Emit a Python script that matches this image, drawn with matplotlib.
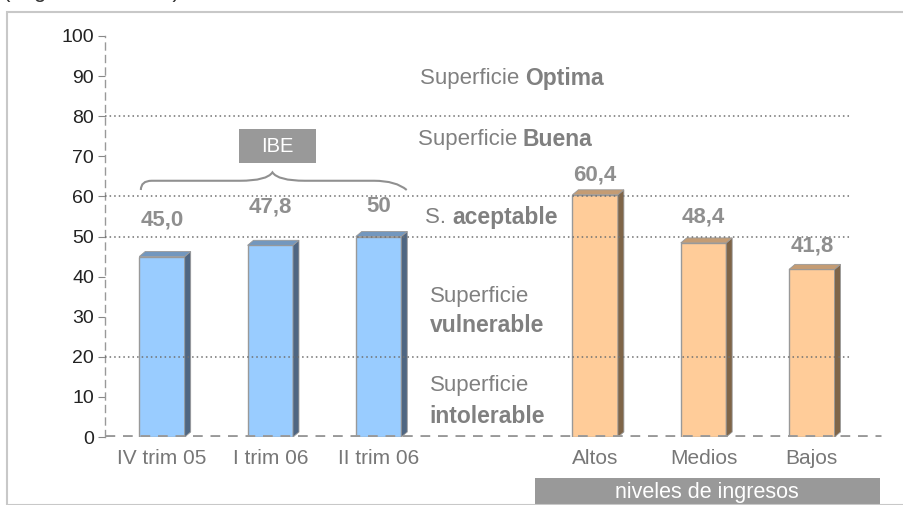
import numpy as np
import matplotlib
matplotlib.use("Agg")
import matplotlib.pyplot as plt
from matplotlib.patches import Polygon, Rectangle, PathPatch
from matplotlib.path import Path

plt.rcParams['font.family'] = ['Liberation Sans', 'DejaVu Sans']

# datos
categorias = ["IV trim 05", "I trim 06", "II trim 06", "Altos", "Medios", "Bajos"]
posiciones = [0, 1, 2, 4, 5, 6]
valores = [45.0, 47.8, 50.0, 60.4, 48.4, 41.8]
etiquetas = ["45,0", "47,8", "50", "60,4", "48,4", "41,8"]
grupo = ["IBE", "IBE", "IBE", "ingresos", "ingresos", "ingresos"]
umbrales = [20, 50, 60, 80]
lbl_off = [37, 38, 30, 20, 26, 23]  # separacion de la etiqueta (px)

colores = {
    "IBE": ("#99CCFF", "#4F6682", "#7397BE"),
    "ingresos": ("#FFCC99", "#7F6548", "#C49C74"),
}
gris = "#808080"

fig = plt.figure(figsize=(9.04, 5.05), dpi=100)
# marco gris claro
fig.patches.append(Rectangle((7 / 904, 0), 1, 1 - 12 / 505, transform=fig.transFigure,
                             fill=False, edgecolor="#c8c8c8", lw=1.5))
fig.text(0.003, 1.0 + 2.5 / 505, "(seguimiento IBE)", fontsize=16, color="#333333",
         va="baseline", ha="left")

ax = fig.add_axes([105 / 904, 68 / 505, 788 / 904, 401 / 505])
ax.set_xlim(-0.526, 6.75)
ax.set_ylim(0, 100)

w = 0.42
dx, dy = 0.055, 1.25
for x, v, g in zip(posiciones, valores, grupo):
    frente, lado, tapa = colores[g]
    ax.bar(x, v, width=w, color=frente, edgecolor="#999999", lw=1, zorder=3)
    ax.add_patch(Polygon([(x + w / 2, 0), (x + w / 2 + dx, dy), (x + w / 2 + dx, v + dy), (x + w / 2, v)],
                         closed=True, facecolor=lado, edgecolor="#999999", lw=0.6, zorder=3))
    ax.add_patch(Polygon([(x - w / 2, v), (x - w / 2 + dx, v + dy), (x + w / 2 + dx, v + dy), (x + w / 2, v)],
                         closed=True, facecolor=tapa, edgecolor="#999999", lw=0.6, zorder=3))

for x, v, t, o in zip(posiciones, valores, etiquetas, lbl_off):
    ax.annotate(t, (x, v), xytext=(0, o), textcoords="offset pixels", ha="center", va="center",
                fontsize=16, fontweight="bold", color="#8f8f8f", zorder=5)

# lineas de umbral
for u in umbrales:
    ax.hlines(u, -0.526, 6.36, colors="#707070", linestyles=(0, (1, 2)), lw=1.1, zorder=4)
ax.axhline(0, xmin=0, xmax=0.985, color="#999999", lw=3.5, linestyle=(0, (2, 1.6)), zorder=6)

# textos de zonas
def zona(x, y, normal, negrita):
    t = ax.text(x, y, normal, fontsize=16, color=gris, ha="left", va="center")
    ax.annotate(negrita, xy=(1, 0.5), xycoords=t, ha="left", va="center",
                fontsize=16.5, fontweight="bold", color=gris)

zona(2.38, 89.5, "Superficie ", "Optima")
zona(2.36, 74.3, "Superficie ", "Buena")
zona(2.43, 54.8, "S. ", "aceptable")
ax.text(2.47, 35.0, "Superficie", fontsize=16, color=gris, va="center")
ax.text(2.47, 27.8, "vulnerable", fontsize=16.5, fontweight="bold", color=gris, va="center")
ax.text(2.47, 12.8, "Superficie", fontsize=16, color=gris, va="center")
ax.text(2.47, 5.0, "intolerable", fontsize=16.5, fontweight="bold", color=gris, va="center")

# llave y caja IBE
x0, x1, xm = -0.195, 2.26, 1.02
yb, ym, yt = 61.6, 63.9, 66.0
verts = [(x0, yb), (x0, ym), (x0 + 0.1, ym), (x0 + 0.3, ym),
         (xm - 0.3, ym), (xm - 0.05, ym), (xm, yt),
         (xm + 0.05, ym), (xm + 0.3, ym),
         (x1 - 0.3, ym), (x1 - 0.1, ym), (x1, yb)]
codes = [Path.MOVETO, Path.CURVE3, Path.CURVE3, Path.LINETO,
         Path.LINETO, Path.CURVE3, Path.CURVE3,
         Path.CURVE3, Path.CURVE3,
         Path.LINETO, Path.CURVE3, Path.CURVE3]
ax.add_patch(PathPatch(Path(verts, codes), fill=False, edgecolor="#909090", lw=1.5))
ax.add_patch(Rectangle((0.711, 68.3), 0.711, 8.5, facecolor="#999999", edgecolor="none"))
ax.text(1.066, 72.55, "IBE", fontsize=14.5, color="white", ha="center", va="center")

ax.add_patch(Rectangle((3.445, -17.1), 3.185, 6.9, facecolor="#999999", edgecolor="none",
                       clip_on=False, zorder=0))
ax.text(5.03, -13.9, "niveles de ingresos", fontsize=15.5, color="white", ha="center", va="center",
        clip_on=False)

# ejes
ax.set_xticks(posiciones)
ax.set_xticklabels(categorias, fontsize=15, color="#777777")
ax.tick_params(axis="x", length=0, pad=9)
ax.set_yticks(np.arange(0, 101, 10))
ax.tick_params(axis="y", labelsize=14, labelcolor="#222222", color="#888888", length=5, pad=3)
for s in ["top", "right", "bottom"]:
    ax.spines[s].set_visible(False)
ax.spines["left"].set_color("#999999")
ax.spines["left"].set_linestyle((0, (5, 4)))
ax.spines["left"].set_linewidth(1)

fig.savefig("out.png", dpi=100)
